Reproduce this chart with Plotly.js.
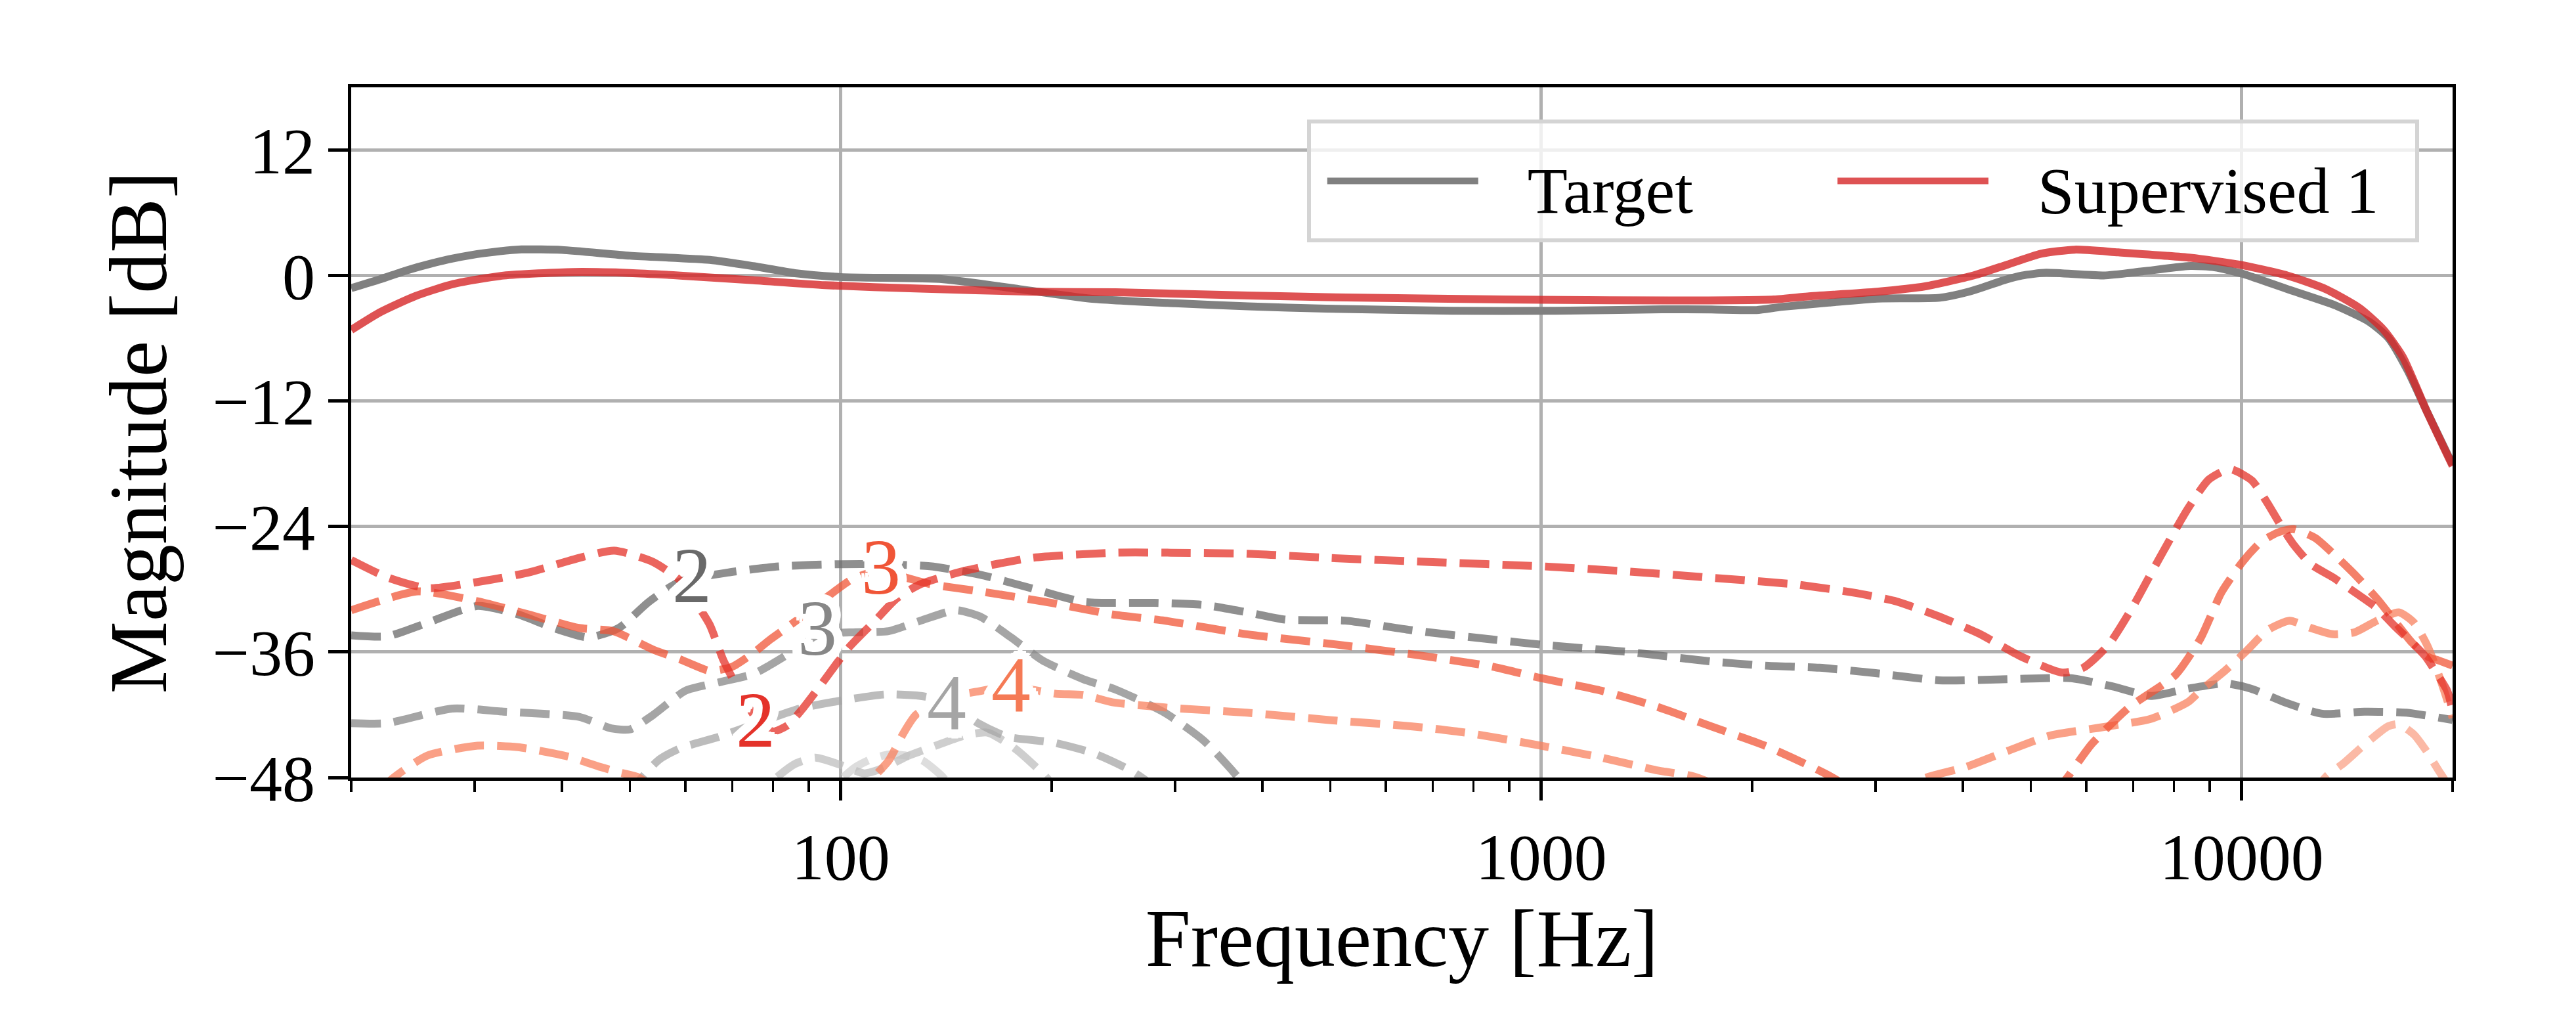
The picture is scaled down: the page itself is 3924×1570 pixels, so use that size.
<!DOCTYPE html>
<html>
<head>
<meta charset="utf-8">
<script src="https://cdn.plot.ly/plotly-3.0.1.min.js"></script>
<style>
  html, body { margin: 0; padding: 0; background: #ffffff; }
  #chart { width: 3924px; height: 1570px; }
</style>
</head>
<body>
<div id="chart"></div>
<script>
// ---------------- data ----------------
const targetFreq = [20, 22, 24, 26, 28, 31, 35, 40, 50, 65, 75, 86, 100, 140, 180, 227, 300, 381, 493, 745, 1052, 1486, 1750, 2029, 2200, 2574, 3015, 3706, 4076, 4600, 4853, 5254, 6353, 7213, 8453, 9150, 10070, 11610, 13600, 15200, 16200, 17260, 18380, 20000];
const targetDb = [-1.2, -0.35, 0.5, 1.15, 1.65, 2.15, 2.5, 2.45, 1.9, 1.5, 0.9, 0.23, -0.14, -0.35, -1.3, -2.2, -2.65, -2.95, -3.16, -3.37, -3.37, -3.22, -3.24, -3.3, -3.0, -2.59, -2.2, -2.12, -1.55, -0.4, 0.0, 0.27, 0.01, 0.4, 0.92, 0.79, 0.14, -1.29, -2.85, -4.41, -5.98, -9.1, -13.0, -18.1];

const supFreq = [20, 22, 24.7, 28, 33, 41.5, 50, 59, 75, 95, 130, 187, 247, 381, 493, 1000, 1591, 2148, 2400, 3015, 3533, 4140, 4628, 5170, 5778, 6665, 8453, 9910, 11610, 13180, 14730, 15950, 16990, 18380, 20000];
const supDb = [-5.2, -3.5, -1.96, -0.8, 0.0, 0.34, 0.25, 0.0, -0.45, -0.92, -1.25, -1.54, -1.6, -1.9, -2.07, -2.32, -2.38, -2.28, -2.0, -1.55, -1.03, 0.01, 1.05, 2.09, 2.48, 2.22, 1.70, 1.05, 0.01, -1.29, -3.11, -5.2, -7.8, -13.0, -18.2];

// harmonic distortion of the target (grey dashed)
const tgtH2Freq = [20, 22.5, 25.7, 30.3, 34.6, 38.9, 43.6, 48.2, 53.2, 58.8, 69, 82, 100, 114, 134, 158, 187, 222, 280, 330, 380, 431, 525, 651, 851, 1000, 1334, 1746, 2087, 2495, 2985, 3690, 4637, 5705, 6549, 7413, 8376, 9487, 10310, 11510, 13030, 14960, 17180, 20000];
const tgtH2Db = [-34.4, -34.5, -33.2, -31.6, -32.4, -33.7, -34.6, -33.7, -31.2, -29.3, -28.4, -27.8, -27.6, -27.6, -27.8, -28.6, -29.9, -31.2, -31.3, -31.5, -32.2, -32.9, -33.0, -33.9, -34.8, -35.3, -36.0, -36.9, -37.3, -37.5, -38.0, -38.7, -38.6, -38.5, -39.3, -40.2, -39.5, -39.0, -39.5, -40.8, -41.9, -41.7, -41.8, -42.5];

const tgtH3Freq = [20, 22.5, 27.9, 33, 42.3, 47, 50, 54, 60, 67, 75, 79, 86, 92.6, 105, 117, 130, 146, 158, 175, 194, 222, 247, 290, 330, 366, 400];
const tgtH3Db = [-42.8, -42.8, -41.4, -41.7, -42.2, -43.3, -43.4, -42.0, -39.7, -38.9, -38.1, -37.3, -35.8, -34.4, -34.1, -34.0, -33.0, -32.0, -32.6, -34.6, -36.8, -38.6, -39.6, -41.8, -44.5, -47.7, -51];

const tgtH4Freq = [45, 52, 55, 59, 67, 76, 87.5, 101, 116, 130, 142, 157, 173, 201, 230, 259, 275, 300];
const tgtH4Db = [-53, -48.0, -46.3, -45.2, -44.1, -42.8, -41.4, -40.6, -40.05, -40.2, -40.8, -42.8, -44.1, -44.65, -45.7, -47.3, -48.5, -52];

const tgtH5Freq = [74, 80, 86, 92, 100, 108, 116, 124, 136, 150, 162, 177, 196, 210];
const tgtH5Db = [-51, -48.3, -46.7, -46.1, -46.8, -47.6, -47.0, -46.0, -45.0, -44.0, -43.7, -45.2, -47.9, -50.5];

const tgtH6Freq = [92, 100, 105, 110, 117, 124, 131, 140, 148];
const tgtH6Db = [-51, -48.2, -47.0, -46.3, -45.8, -45.9, -46.4, -48.0, -50.5];

// harmonic distortion of Supervised 1 (red dashed)
const supH2Freq = [20, 22.5, 25.7, 30.3, 35.8, 42.3, 47.5, 54, 58.8, 62, 65, 68, 72, 76, 80, 84, 88, 94, 102.6, 111.6, 120, 130, 151, 187, 247, 296, 380, 498, 700, 1000, 1334, 1746, 2283, 2780, 3190, 3664, 4207, 4830, 5545, 5942, 6457, 7001, 7604, 8376, 8976, 9617, 10340, 10870, 11350, 11850, 12550, 13490, 14510, 15600, 16520, 17380, 18280, 19090, 19650, 20000];
const supH2Db = [-27.2, -28.85, -29.9, -29.3, -28.4, -27.0, -26.3, -27.4, -29.1, -31.2, -33.4, -36.8, -40.0, -42.5, -43.6, -43.0, -41.5, -39.0, -35.6, -33.1, -30.9, -29.5, -28.2, -27.0, -26.5, -26.5, -26.6, -27.0, -27.4, -27.8, -28.3, -28.9, -29.5, -30.3, -31.1, -32.5, -34.2, -36.4, -37.97, -37.5, -35.3, -31.6, -27.2, -22.3, -19.5, -18.5, -19.6, -21.7, -23.8, -25.7, -27.6, -28.85, -30.3, -31.8, -33.5, -34.9, -36.4, -38.3, -39.7, -41.6];

const supH3Freq = [20, 24.9, 30.3, 35.8, 42.3, 47.3, 54.1, 59, 65, 70, 75, 79.3, 84, 90, 96.6, 104, 114, 124, 134, 158, 200, 244, 290, 380, 498, 651, 851, 1000, 1219, 1459, 1746, 2087, 2410, 2590, 2900, 3600, 4400, 5100, 5620, 6107, 6905, 8040, 8733, 9355, 10020, 10640, 11270, 11850, 12740, 13490, 14510, 15600, 16520, 17500, 18500, 19090, 20000];
const supH3Db = [-32.0, -30.2, -31.15, -32.4, -33.7, -34.0, -35.8, -36.7, -37.8, -37.4, -36.1, -34.8, -33.6, -32.1, -30.5, -29.0, -28.2, -28.9, -29.5, -30.2, -31.3, -32.4, -33.0, -34.3, -35.2, -36.2, -37.4, -38.5, -39.7, -41.2, -43.1, -44.96, -46.85, -47.9, -50, -56, -56, -51.5, -48.1, -44.8, -41.3, -38.2, -34.7, -30.3, -27.4, -25.5, -24.56, -24.25, -25.1, -26.55, -28.6, -30.9, -33.0, -35.1, -36.5, -36.8, -37.3];

const supH4Freq = [20, 22.9, 25.7, 30.3, 34.6, 40.8, 45.4, 48.2, 51.5, 56, 70, 95, 105, 111, 117, 123, 128, 141, 156, 175, 203, 222, 244, 290, 380, 498, 651, 778, 1000, 1219, 1459, 1652, 1900, 2500, 3100, 3517, 4035, 4637, 5321, 6457, 7413, 8376, 8763, 9420, 10120, 10890, 11700, 12550, 13490, 14510, 15600, 16760, 17620, 18410, 19090, 19650, 20000];
const supH4Db = [-52, -48.1, -45.9, -44.96, -45.1, -46.0, -47.0, -47.5, -48.0, -50, -56, -56, -50.5, -48.1, -46.4, -43.7, -42.0, -40.4, -39.8, -39.3, -40.0, -40.1, -40.8, -41.3, -41.8, -42.5, -43.1, -43.7, -44.96, -46.1, -47.3, -47.9, -49.5, -52, -50.5, -48.1, -47.0, -45.45, -44.0, -43.1, -42.4, -40.8, -39.6, -37.9, -36.0, -33.9, -33.0, -33.7, -34.3, -34.1, -33.0, -32.2, -33.2, -35.4, -38.1, -40.6, -42.3];

const supH5Freq = [12500, 13200, 14000, 15040, 16180, 16760, 17620, 18410, 19090, 19520, 20000];
const supH5Db = [-50, -47.9, -46.6, -44.75, -43.1, -42.9, -43.9, -45.6, -47.3, -48.3, -50];

// inline harmonic-order labels
const labelFreq = [61.3, 92.6, 141.6, 75.6, 114, 174.8];
const labelDb = [-28.7, -33.7, -40.8, -42.5, -27.9, -39.1];
const labelText = ['2', '3', '4', '2', '3', '4'];

// legend names and axis ticks
const seriesNames = ['Target', 'Supervised 1'];
const yTickVals = [-48, -36, -24, -12, 0, 12];
const yTickText = ['\u221248', '\u221236', '\u221224', '\u221212', '0', '12'];
const xTickVals = [100, 1000, 10000];
const xTickText = ['100', '1000', '10000'];

// ---------------- styling ----------------
const FONT = 'Liberation Serif, Times New Roman, Times, serif';
const labelColors = ['#696969', '#878787', '#a5a5a5', '#e4322a', '#f05537', '#f57a55'];

function dashed(f, d, color) {
  return {
    x: f, y: d, type: 'scatter', mode: 'lines', showlegend: false, hoverinfo: 'skip',
    line: { color: color, width: 12, dash: '45px,20px', shape: 'spline', smoothing: 0.6 }
  };
}

// legend label: padded with spacing characters, drawn at 100px inside a taller legend row
function legendLabel(name, trail) {
  return '<span style="font-size:100px">\u2002\u2009' + name + trail + '</span>';
}

const traces = [
  dashed(tgtH6Freq, tgtH6Db, 'rgba(210,210,210,0.75)'),
  dashed(tgtH5Freq, tgtH5Db, 'rgba(190,190,190,0.75)'),
  dashed(tgtH4Freq, tgtH4Db, 'rgba(165,165,165,0.75)'),
  dashed(tgtH3Freq, tgtH3Db, 'rgba(135,135,135,0.75)'),
  dashed(tgtH2Freq, tgtH2Db, 'rgba(105,105,105,0.75)'),
  dashed(supH5Freq, supH5Db, 'rgba(250,162,135,0.75)'),
  dashed(supH4Freq, supH4Db, 'rgba(248,128,94,0.75)'),
  dashed(supH3Freq, supH3Db, 'rgba(240,85,55,0.75)'),
  dashed(supH2Freq, supH2Db, 'rgba(228,50,40,0.75)'),
  {
    x: targetFreq, y: targetDb, type: 'scatter', mode: 'lines',
    name: legendLabel(seriesNames[0], '\u2003\u2002\u2009\u2009'),
    line: { color: '#808080', width: 12, shape: 'spline', smoothing: 0.6 }
  },
  {
    x: supFreq, y: supDb, type: 'scatter', mode: 'lines',
    name: legendLabel(seriesNames[1], '\u2002'),
    line: { color: 'rgba(214,39,40,0.8)', width: 12, shape: 'spline', smoothing: 0.6 }
  }
];

// white halo for inline labels
const halo = [];
for (let a = 0; a < 360; a += 22.5) {
  const r = a * Math.PI / 180;
  halo.push((14 * Math.cos(r)).toFixed(1) + 'px ' + (14 * Math.sin(r)).toFixed(1) + 'px 0px #ffffff');
  halo.push((7 * Math.cos(r)).toFixed(1) + 'px ' + (7 * Math.sin(r)).toFixed(1) + 'px 0px #ffffff');
}
const haloStr = halo.join(', ');

const annotations = labelText.map((t, i) => ({
  x: Math.log10(labelFreq[i]), y: labelDb[i], xref: 'x', yref: 'y',
  text: t, showarrow: false, xanchor: 'center', yanchor: 'middle',
  font: { family: FONT, size: 120, color: labelColors[i], shadow: haloStr }
}));

// minor ticks of the log axis
const minorVals = [];
[10, 100, 1000, 10000].forEach(dec => { for (let k = 2; k <= 9; k++) { const v = k * dec; if (v >= 20 && v <= 20000) minorVals.push(v); } });

const layout = {
  width: 3924, height: 1570,
  margin: { l: 535, r: 188, t: 133, b: 386, pad: 0 },
  paper_bgcolor: '#ffffff', plot_bgcolor: '#ffffff',
  font: { family: FONT, color: '#000000', size: 100 },
  showlegend: true,
  xaxis: {
    type: 'log', range: [Math.log10(20), Math.log10(20000)],
    tickmode: 'array', tickvals: xTickVals, ticktext: xTickText,
    ticks: 'outside', ticklen: 30, tickwidth: 5, tickcolor: '#000000',
    tickfont: { family: FONT, size: 100, color: '#000000' },
    showline: true, linewidth: 5, linecolor: '#000000', mirror: true,
    showgrid: true, gridcolor: '#b0b0b0', gridwidth: 5, zeroline: false,
    minor: { tickmode: 'array', tickvals: minorVals, ticks: 'outside', ticklen: 17, tickwidth: 3.5, tickcolor: '#000000', showgrid: false },
    title: { text: 'Frequency [Hz]', font: { family: FONT, size: 124, color: '#000000' }, standoff: 26 }
  },
  yaxis: {
    range: [-48, 18],
    tickmode: 'array', tickvals: yTickVals, ticktext: yTickText,
    ticks: 'outside', ticklen: 30, tickwidth: 5, tickcolor: '#000000',
    tickfont: { family: FONT, size: 100, color: '#000000' },
    showline: true, linewidth: 5, linecolor: '#000000', mirror: true,
    showgrid: true, gridcolor: '#b0b0b0', gridwidth: 5, zeroline: false,
    title: { text: 'Magnitude [dB]', font: { family: FONT, size: 124, color: '#000000' }, standoff: 30 }
  },
  legend: {
    orientation: 'h', x: 0.984, xanchor: 'right', y: 0.953, yanchor: 'top',
    bgcolor: 'rgba(255,255,255,0.8)', bordercolor: '#d4d4d4', borderwidth: 6,
    font: { family: FONT, size: 124, color: '#000000' },
    itemwidth: 230, indentation: 20, valign: 'middle'
  },
  annotations: annotations
};

Plotly.newPlot('chart', traces, layout, { staticPlot: true, displayModeBar: false });
</script>
</body>
</html>
